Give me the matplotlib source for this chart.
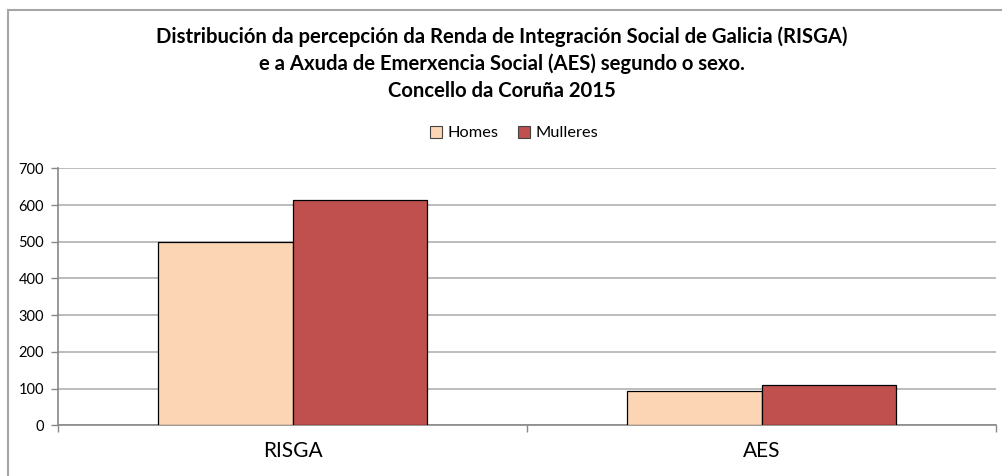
"""
Distribución RISGA / AES por sexo - Concello da Coruña 2015
"""
import matplotlib
matplotlib.use("Agg")
import matplotlib.pyplot as plt
from matplotlib.lines import Line2D
from matplotlib.patches import Patch
import numpy as np

# datos
categorias = ["RISGA", "AES"]
homes = [498, 94]
mulleres = [615, 111]
series = ["Homes", "Mulleres"]
cores = ["#FCD5B5", "#C0504D"]
yticks = [0, 100, 200, 300, 400, 500, 600, 700]

titulo = ("Distribución da percepción da Renda de Integración Social de Galicia (RISGA)\n"
          "e a Axuda de Emerxencia Social (AES) segundo o sexo.\n"
          "Concello da Coruña 2015")

plt.rcParams.update({
    "font.family": ["Lato", "DejaVu Sans"],
    "axes.edgecolor": "#888888",
})

W, H = 1002, 476
fig = plt.figure(figsize=(W / 100, H / 100), dpi=100)
fig.patch.set_facecolor("white")

# marco do gráfico (só se ven os bordos esquerdo e superior)
frame_col = "#A6A6A6"
fig.add_artist(Line2D([7.5 / W, 7.5 / W], [0, 1 - 9.5 / H], transform=fig.transFigure,
                      color=frame_col, lw=1.5))
fig.add_artist(Line2D([7.5 / W, 1], [1 - 9.5 / H, 1 - 9.5 / H], transform=fig.transFigure,
                      color=frame_col, lw=1.5))

ax = fig.add_axes([58 / W, 50.7 / H, 938 / W, 257 / H])
x = np.arange(len(categorias))
bw = 0.2868
ax.bar(x - bw / 2, homes, bw, color=cores[0], edgecolor="black", linewidth=0.9, zorder=3)
ax.bar(x + bw / 2, mulleres, bw, color=cores[1], edgecolor="black", linewidth=0.9, zorder=3)

ax.set_xlim(-0.5, len(categorias) - 0.5)
ax.set_ylim(0, 700)
ax.set_yticks(yticks)
ax.set_yticklabels([str(v) for v in yticks], fontsize=10.5)
ax.yaxis.grid(True, color="#B0B0B0", linewidth=1.2, zorder=0)
ax.set_axisbelow(True)

ax.set_xticks(np.arange(-0.5, len(categorias), 1.0))
ax.set_xticklabels([])
ax.set_xticks(x, minor=True)
ax.set_xticklabels(categorias, minor=True, fontsize=15)
ax.tick_params(axis="x", which="minor", length=0, pad=11)
ax.tick_params(axis="x", which="major", length=5, width=1, color="#888888")
ax.tick_params(axis="y", length=5, width=1, color="#888888", pad=5)

for s in ["top", "right"]:
    ax.spines[s].set_visible(False)
ax.spines["left"].set_linewidth(1.2)
ax.spines["bottom"].set_linewidth(1.2)

fig.text(0.501, 1 - 63.5 / H, titulo, ha="center", va="center", fontsize=14.6,
         fontweight="bold", linespacing=1.42)

handles = [Patch(facecolor=c, edgecolor="#444444", linewidth=0.8) for c in cores]
fig.legend(handles, series, loc="center", bbox_to_anchor=(514 / W, 1 - 133 / H),
           ncol=2, frameon=False, fontsize=11.8, handlelength=0.75, handleheight=0.75,
           handletextpad=0.3, columnspacing=1.2)

fig.savefig("out.png", dpi=100)
